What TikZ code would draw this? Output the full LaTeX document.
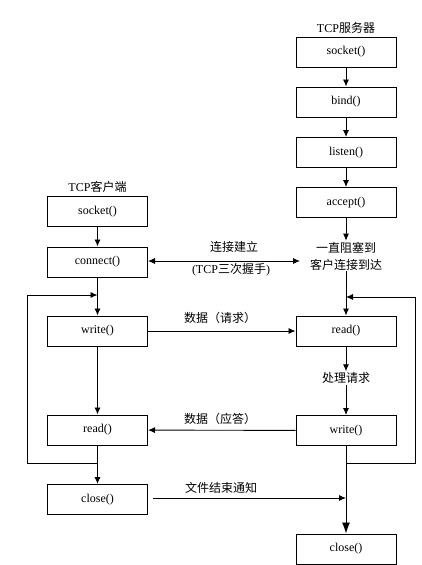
\documentclass[tikz,border=0pt]{standalone}
\usepackage{fontspec}
\setmainfont{Liberation Serif}
\newfontfamily\cjk{Noto Sans CJK SC}
\usetikzlibrary{arrows.meta}
\begin{document}
\begin{tikzpicture}[x=1pt,y=-1pt,
  font=\fontsize{12}{14}\selectfont,
  box/.style={draw, line width=1pt, minimum width=100pt, minimum height=30pt, inner sep=0pt},
  lab/.style={inner sep=1pt, align=center},
  conn/.style={line width=0.9pt, -{Latex[length=7pt,width=6pt]}},
  line/.style={line width=0.9pt},
  bigarr/.style={line width=0.9pt, -{Latex[length=11pt,width=8pt]}}]
\useasboundingbox (0,0) rectangle (422,565);
% client
\node[lab] (ct) at (97.5,187) {TCP{\cjk 客户端}};
\node[box] (cs) at (97.5,211.5) {socket()};
\node[box] (cc) at (97.5,262) {connect()};
\node[box] (cw) at (97.5,331) {write()};
\node[box] (cr) at (97.5,430) {read()};
\node[box] (ccl) at (97.5,499.5) {close()};
% server
\node[lab] (stt) at (346,28) {TCP{\cjk 服务器}};
\node[box] (ss) at (346,52) {socket()};
\node[box] (sb) at (346,102) {bind()};
\node[box] (sl) at (346,152.5) {listen()};
\node[box] (sa) at (346,202.5) {accept()};
\node[lab, font=\fontsize{12}{17}\selectfont\cjk] (st) at (346,256) {一直阻塞到\\客户连接到达};
\node[box] (sr) at (346,331) {read()};
\node[lab, font=\fontsize{12}{14}\selectfont\cjk] (sp) at (346,378) {处理请求};
\node[box] (sw) at (346,430.5) {write()};
\node[box] (scl) at (346,549) {close()};
% labels
\node[lab] (l1) at (234,247) {\cjk 连接建立};
\node[lab] (l2) at (231,270) {(TCP{\cjk 三次握手})};
\node[lab] (l3) at (220,318) {\cjk 数据（请求）};
\node[lab] (l4) at (220,419) {\cjk 数据（应答）};
\node[lab] (l5) at (221,488) {\cjk 文件结束通知};
% coordinates
\coordinate (ca) at (300,261);
\coordinate (jl) at (97.5,463);
\coordinate (lb) at (27,463);
\coordinate (lt) at (27,295);
\coordinate (jr) at (346,463);
\coordinate (rb) at (415,463);
\coordinate (rt) at (415,297);
\coordinate (fs) at (153,498);
\coordinate (fe) at (346,498);
% client flow
\draw[conn] (cs) -- (cc);
\draw[conn] (cc) -- (cw);
\draw[conn] (cw) -- (cr);
\draw[conn] (cr) -- (ccl);
\draw[line] (jl) -- (lb) -- (lt);
\draw[conn] (lt) -- (cc.south |- lt);
% server flow
\draw[conn] (ss) -- (sb);
\draw[conn] (sb) -- (sl);
\draw[conn] (sl) -- (sa);
\draw[conn] (sa) -- (st);
\draw[conn] (st) -- (sr);
\draw[conn] (sr) -- (sp);
\draw[conn] (sp) -- (sw);
\draw[bigarr] (sw) -- (scl);
\draw[line] (jr) -- (rb) -- (rt);
\draw[conn] (rt) -- (sr.north |- rt);
% horizontal
\draw[line width=0.9pt, {Latex[length=7pt,width=6pt]}-{Latex[length=7pt,width=6pt]}] (cc.east |- ca) -- (ca);
\draw[conn] (cw) -- (sr);
\draw[conn] (sw) -- (cr);
\draw[conn] (fs) -- (fe);
\end{tikzpicture}
\end{document}
